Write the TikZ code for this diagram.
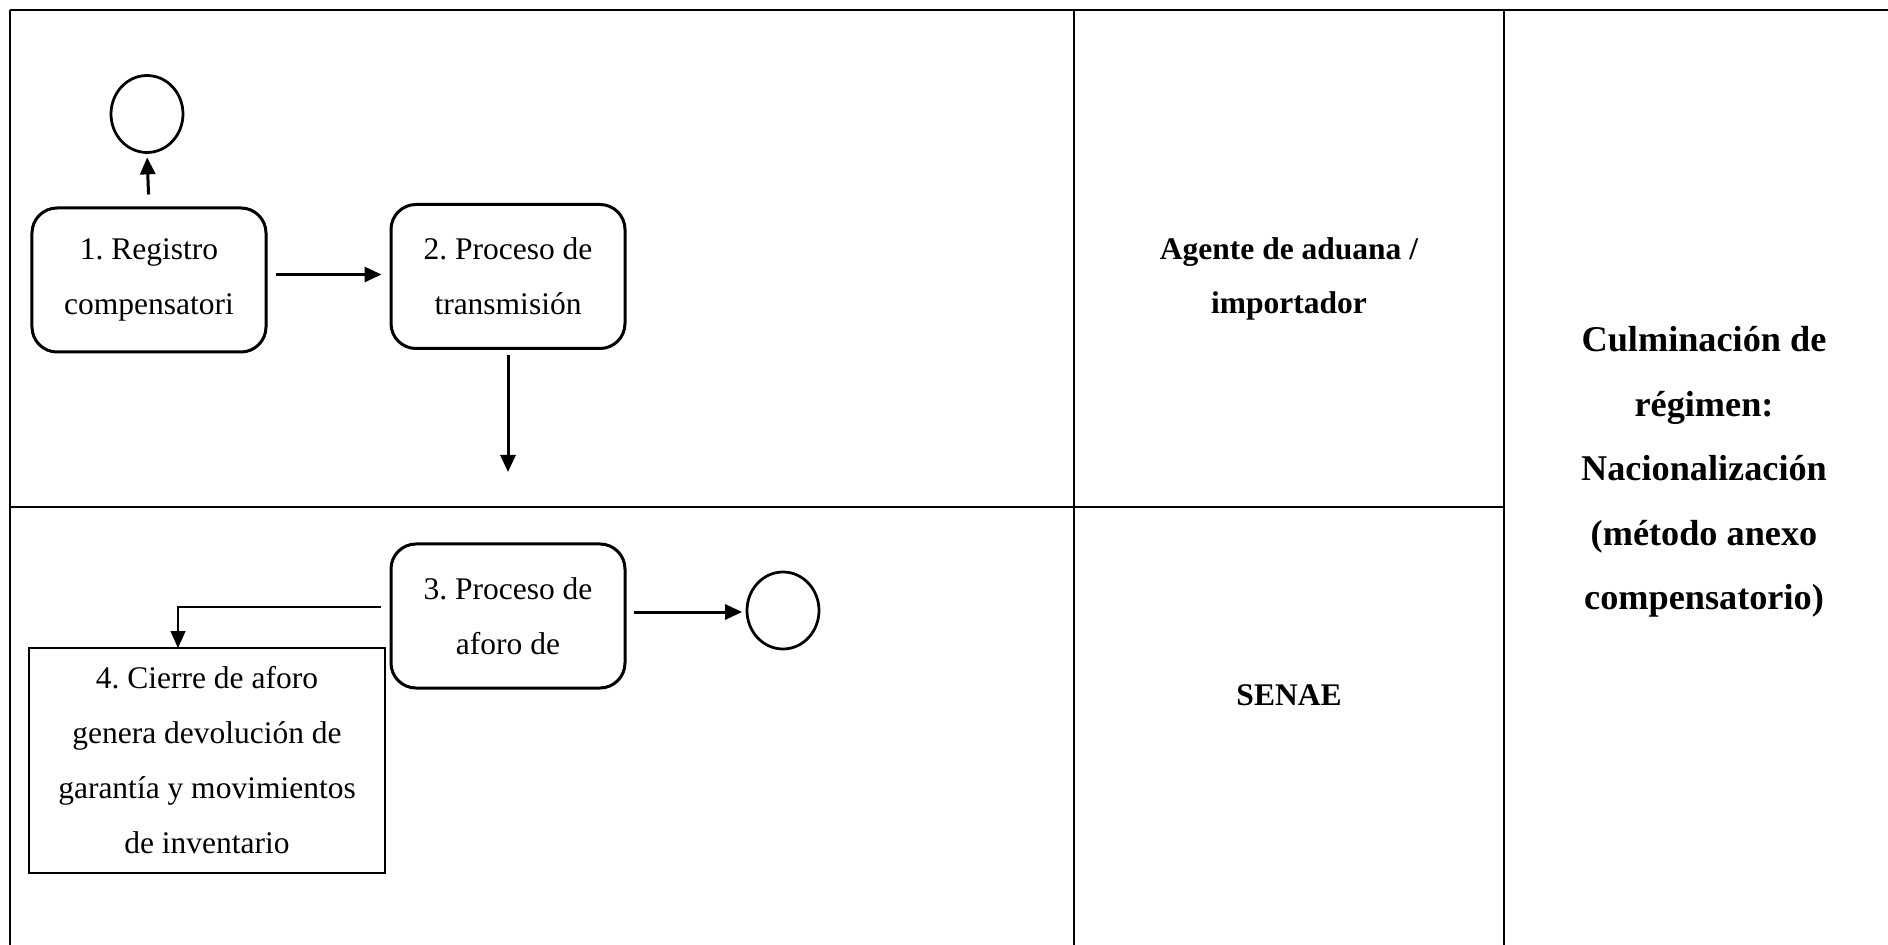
\documentclass[tikz,border=0pt]{standalone}
\usepackage{fontspec}
\setmainfont{Liberation Serif}
\usetikzlibrary{arrows.meta,shapes.geometric,positioning}
\tikzset{every picture/.style={line width=0.75pt}}
\frenchspacing

\begin{document}
\begin{tikzpicture}[x=0.4pt,y=0.4pt,yscale=-1,
  tabline/.style={line width=0.8pt},
  procbox/.style={draw,line width=1.2pt,rounded corners=10pt,minimum width=93.6pt,minimum height=57.6pt,align=center,inner sep=0pt,font=\fontsize{12.6}{22}\selectfont},
  closebox/.style={draw,line width=1pt,minimum width=142.4pt,minimum height=90pt,align=center,inner sep=0pt,font=\fontsize{12.6}{22}\selectfont},
  event/.style={draw,ellipse,line width=1.1pt,minimum width=28.8pt,minimum height=30.8pt,inner sep=0pt},
  flow/.style={-{Triangle[width=6pt,length=6.8pt]},line width=1.2pt},
  thinflow/.style={-{Triangle[width=6pt,length=6.8pt]},line width=0.6pt},
  lanetext/.style={align=center,inner sep=0pt,font=\fontsize{12.6}{21.7}\selectfont\bfseries},
  phasetext/.style={align=center,inner sep=0pt,font=\fontsize{14.5}{25.8}\selectfont\bfseries}]
\useasboundingbox (0,0) rectangle (1888,945);

%Shape: Table [id:lanes]
\draw [tabline] (10,10) -- (1888,10) ;
\draw [tabline] (10,10) -- (10,945) ;
\draw [tabline] (1074,10) -- (1074,945) ;
\draw [tabline] (1504,10) -- (1504,945) ;
\draw [tabline] (10,507) -- (1504,507) ;

%Shape: Ellipse [id:start]
\node [event] (ev1) at (147,114) {};
%Shape: Rounded Rect [id:registro]
\node [procbox] (reg) at (149,280) {1. Registro\\compensatori};
%Shape: Rounded Rect [id:transmision]
\node [procbox] (tra) at (508,276.5) {2. Proceso de\\transmisión};
%Shape: Rounded Rect [id:aforo]
\node [procbox] (afo) at (508,616) {3. Proceso de\\aforo de};
%Shape: Rectangle [id:cierre]
\node [closebox] (cie) at (207,760.5) {4. Cierre de aforo\\genera devolución de\\garantía y movimientos\\de inventario};
%Shape: Ellipse [id:end]
\node [event] (ev2) at (783,610.5) {};

\coordinate (tradown) at (508,472);
\coordinate (cietop) at (178,648);

%Straight Lines
\draw [flow,shorten <=4.8pt,shorten >=1.4pt] (reg.north) -- (ev1.south) ;
\draw [flow,shorten <=3.4pt,shorten >=3.2pt] ([yshift=-2.2pt]reg.east) -- ([yshift=-2.2pt]reg.east -| tra.west) ;
\draw [flow,shorten <=2pt] (tra.south) -- (tradown) ;
\draw [thinflow] ([xshift=-3.6pt,yshift=-3.7pt]afo.west) -| (cietop) ;
\draw [flow,shorten <=3pt,shorten >=1.4pt] ([yshift=-1.6pt]afo.east) -- ([yshift=-1.6pt]afo.east -| ev2.west) ;

% Text Node
\node [lanetext] (lane1) at (1289,278.7) {Agente de aduana /\\importador};
% Text Node
\node [lanetext] (lane2) at (1289,695) {SENAE};
% Text Node
\node [phasetext] (phase) at (1704,472) {Culminación de\\régimen:\\Nacionalización\\(método anexo\\compensatorio)};

\end{tikzpicture}
\end{document}
